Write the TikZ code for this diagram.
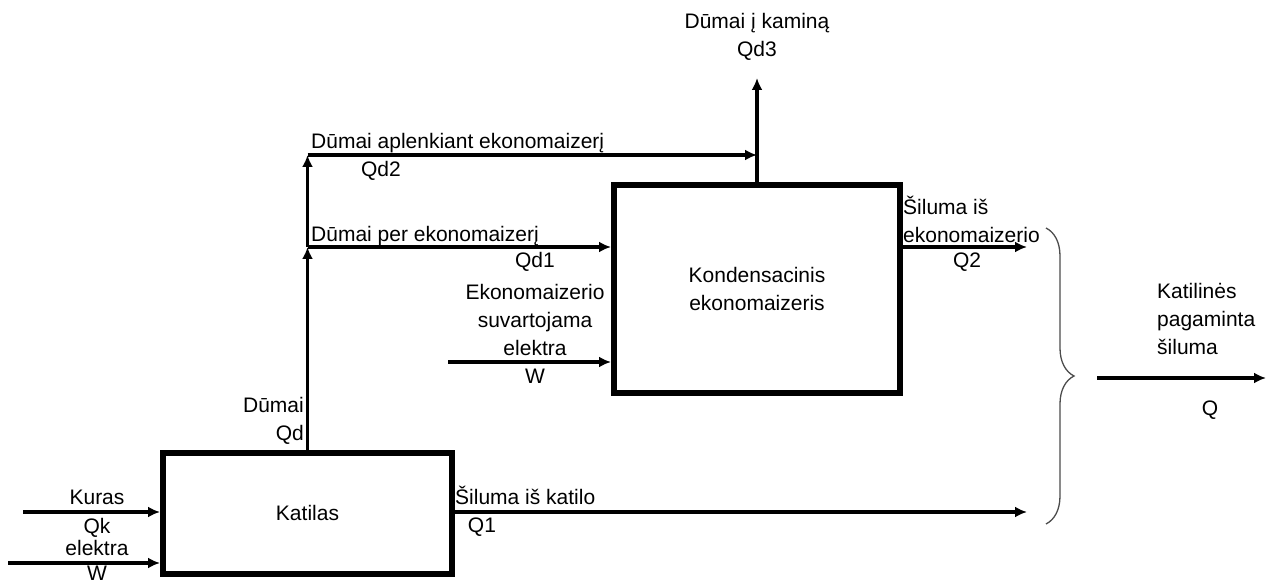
\documentclass[tikz,border=0pt]{standalone}
\usepackage{fontspec}
\setmainfont{Liberation Sans}
\usetikzlibrary{arrows.meta,decorations.pathreplacing}

\begin{document}
\begin{tikzpicture}[x=1pt, y=-1pt,
    box/.style={draw, line width=6pt, inner sep=0pt, align=center},
    flow/.style={line width=3.8pt, -{Latex[length=12pt,width=11pt]}},
    lbl/.style={inner sep=0pt, font=\fontsize{21}{28}\selectfont}]
    \useasboundingbox (0,0) rectangle (1270,585);
    \tikzset{every node/.append style={font=\fontsize{21}{28}\selectfont}}

    % Units
    \node[box, minimum width=289pt, minimum height=121pt] (katilas) at (307.5,513) {Katilas};
    \node[box, minimum width=286pt, minimum height=208pt] (econ) at (757,289) {Kondensacinis\\ekonomaizeris};

    % Junctions and free ends
    \coordinate (j1) at (katilas.north |- 0,247);
    \coordinate (j2) at (katilas.north |- 0,155);
    \coordinate (kuras) at (23,512);
    \coordinate (elin) at (8,563);
    \coordinate (welin) at (448,362);
    \coordinate (qd3) at (757,78);
    \coordinate (q2) at (1027,247);
    \coordinate (q1) at (1027,512);
    \coordinate (qin) at (1097,378);
    \coordinate (qout) at (1266,378);

    % Inputs of the boiler
    \draw[flow] (kuras) -- (kuras -| katilas.west);
    \draw[flow] (elin) -- (elin -| katilas.west);
    \node[lbl] (kurasl) at (97,497) {Kuras};
    \node[lbl] (qkl) at (97,528) {Qk};
    \node[lbl] (elektral) at (97,548) {elektra};
    \node[lbl] (wl) at (97,573) {W};

    % Flue gas
    \draw[flow] (katilas.north) -- (j1);
    \draw[flow] (j1) -- (j2);
    \draw[flow] (j1) -- (j1 -| econ.west);
    \draw[flow] (j2) -- (j2 -| econ.north);
    \draw[flow] (econ.north) -- (qd3);
    \node[lbl, align=right, anchor=east] (dumai) at (304,421) {Dūmai\\Qd};
    \node[lbl, anchor=base west] (qd1l) at (311,242) {Dūmai per ekonomaizerį};
    \node[lbl] (qd1n) at (535,262) {Qd1};
    \node[lbl, anchor=base west] (qd2l) at (311,149) {Dūmai aplenkiant ekonomaizerį};
    \node[lbl] (qd2n) at (381,171) {Qd2};
    \node[lbl, align=center] (qd3l) at (757,37) {Dūmai į kaminą\\Qd3};

    % Electricity of the economizer
    \draw[flow] (welin) -- (welin -| econ.west);
    \node[lbl, align=center] (wecon) at (535,334) {Ekonomaizerio\\suvartojama\\elektra\\W};

    % Heat outputs
    \draw[flow] (econ.east |- q2) -- (q2);
    \draw[flow] (katilas.east |- q1) -- (q1);
    \node[lbl, align=left, anchor=west] (q2l) at (903,219) {Šiluma iš\\ekonomaizerio};
    \node[lbl] (q2n) at (967,262) {Q2};
    \node[lbl, anchor=west] (q1l) at (455,495) {Šiluma iš katilo};
    \node[lbl] (q1n) at (482,527) {Q1};

    % Total heat
    \draw[line width=1.3pt, black!70, decorate,
          decoration={brace, amplitude=28pt, aspect=0.5}] (1046,228) -- (1046,524);
    \draw[flow] (qin) -- (qout);
    \node[lbl, align=left, anchor=west] (totl) at (1157,319) {Katilinės\\pagaminta\\šiluma};
    \node[lbl] (qn) at (1210,410) {Q};
\end{tikzpicture}
\end{document}
